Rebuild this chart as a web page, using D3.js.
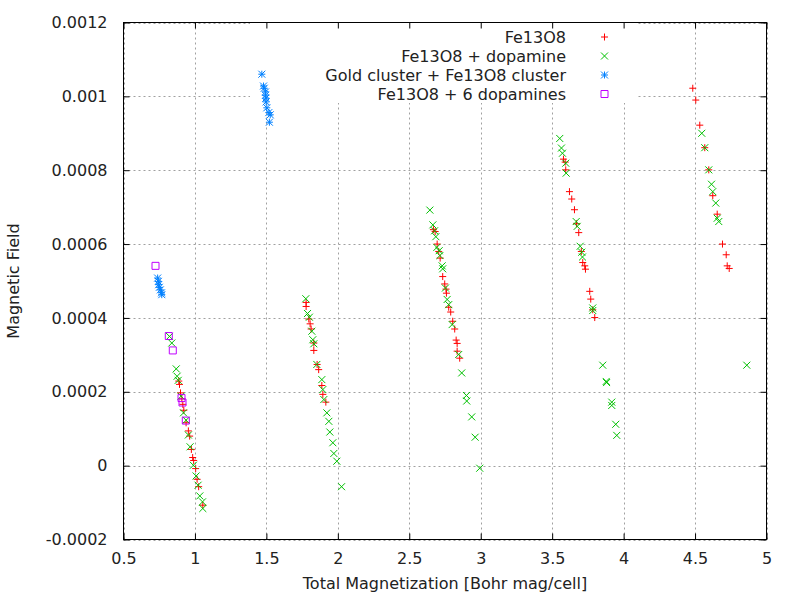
<!DOCTYPE html>
<html>
<head>
<meta charset="utf-8">
<script src="https://cdn.jsdelivr.net/npm/d3@7"></script>
<style>
  html, body { margin: 0; padding: 0; background: #fff; }
  svg { display: block; font-family: "DejaVu Sans", sans-serif; }
</style>
</head>
<body>
<svg id="chart" width="800" height="600"></svg>
<script>
// ---------------- data ----------------
const seriesNames = ["Fe13O8", "Fe13O8 + dopamine", "Gold cluster + Fe13O8 cluster", "Fe13O8 + 6 dopamines"];

const fe13o8 = [
  [0.887,0.000229],[0.892,0.000220],[0.899,0.000197],[0.908,0.000181],[0.915,0.000166],[0.922,0.000150],
  [0.938,0.000116],[0.954,0.000094],[0.963,0.000080],[0.975,0.000044],[0.984,0.000022],[0.991,0.000014],
  [1.005,-0.000008],[1.015,-0.000037],[1.026,-0.000057],[1.055,-0.000107],
  [1.778,0.000442],[1.778,0.000431],[1.797,0.000397],[1.806,0.000384],[1.813,0.000370],[1.832,0.000332],
  [1.832,0.000312],[1.855,0.000274],[1.866,0.000260],[1.888,0.000217],[1.895,0.000193],[1.916,0.000172],
  [2.669,0.000639],[2.681,0.000634],[2.695,0.000600],[2.706,0.000580],[2.716,0.000562],[2.734,0.000512],
  [2.748,0.000492],[2.757,0.000478],[2.760,0.000467],[2.776,0.000429],[2.790,0.000416],[2.804,0.000391],
  [2.818,0.000370],[2.828,0.000340],[2.835,0.000331],[2.835,0.000310],[2.853,0.000291],
  [3.579,0.000830],[3.591,0.000822],[3.595,0.000801],[3.621,0.000742],[3.637,0.000722],[3.656,0.000693],
  [3.671,0.000655],[3.686,0.000631],[3.704,0.000580],[3.714,0.000550],[3.728,0.000541],[3.733,0.000532],
  [3.763,0.000472],[3.770,0.000451],[3.784,0.000422],[3.798,0.000401],
  [4.484,0.001022],[4.505,0.000990],[4.533,0.000922],[4.568,0.000861],[4.596,0.000801],[4.624,0.000731],
  [4.655,0.000681],[4.692,0.000600],[4.718,0.000571],[4.725,0.000541],[4.739,0.000534]
];

const fe13o8Dopamine = [
  [0.822,0.000350],[0.838,0.000332],[0.869,0.000262],[0.875,0.000242],[0.883,0.000231],[0.903,0.000188],
  [0.920,0.000143],[0.938,0.000123],[0.954,0.000083],[0.966,0.000051],[0.989,0.000001],[1.008,-0.000028],
  [1.022,-0.000053],[1.034,-0.000082],[1.053,-0.000098],[1.055,-0.000116],
  [1.776,0.000452],[1.788,0.000412],[1.801,0.000402],[1.818,0.000364],[1.825,0.000341],[1.832,0.000330],
  [1.853,0.000274],[1.888,0.000233],[1.895,0.000206],[1.902,0.000179],[1.923,0.000143],[1.937,0.000120],
  [1.944,0.000091],[1.965,0.000062],[1.972,0.000033],[1.993,0.000012],[2.026,-0.000057],
  [2.644,0.000692],[2.665,0.000652],[2.677,0.000636],[2.686,0.000620],[2.693,0.000591],[2.709,0.000582],
  [2.714,0.000569],[2.730,0.000541],[2.734,0.000533],[2.753,0.000481],[2.765,0.000450],[2.776,0.000436],
  [2.800,0.000382],[2.846,0.000301],[2.867,0.000251],[2.900,0.000190],[2.902,0.000175],[2.937,0.000132],
  [2.961,0.000077],[2.993,-0.000007],
  [3.553,0.000886],[3.565,0.000860],[3.572,0.000846],[3.595,0.000819],[3.598,0.000792],[3.668,0.000661],
  [3.675,0.000648],[3.696,0.000594],[3.707,0.000578],[3.712,0.000565],[3.784,0.000427],[3.784,0.000420],
  [3.854,0.000272],[3.878,0.000228],[3.881,0.000225],[3.917,0.000172],[3.917,0.000163],[3.945,0.000112],
  [3.952,0.000082],
  [4.547,0.000900],[4.568,0.000861],[4.596,0.000801],[4.615,0.000762],[4.624,0.000742],[4.645,0.000711],
  [4.655,0.000670],[4.666,0.000661],[4.862,0.000272]
];

const goldFe13o8 = [
  [0.739,0.000508],[0.744,0.000499],[0.746,0.000490],[0.751,0.000483],[0.758,0.000476],[0.766,0.000468],
  [0.768,0.000463],
  [1.468,0.001060],[1.480,0.001028],[1.485,0.001022],[1.494,0.001012],[1.494,0.001003],[1.496,0.000995],
  [1.498,0.000985],[1.503,0.000969],[1.517,0.000956],[1.527,0.000950],[1.521,0.000930]
];

const fe13o86Dopamines = [
  [0.724,0.000541],[0.817,0.000351],[0.845,0.000312],[0.906,0.000183],[0.913,0.000171],[0.936,0.000122]
];

const xTicks = [0.5, 1, 1.5, 2, 2.5, 3, 3.5, 4, 4.5, 5];
const xTickLabels = ["0.5", "1", "1.5", "2", "2.5", "3", "3.5", "4", "4.5", "5"];
const yTicks = [-0.0002, 0, 0.0002, 0.0004, 0.0006, 0.0008, 0.001, 0.0012];
const yTickLabels = ["-0.0002", "0", "0.0002", "0.0004", "0.0006", "0.0008", "0.001", "0.0012"];
const xTitle = "Total Magnetization [Bohr mag/cell]";
const yTitle = "Magnetic Field";

// ---------------- layout ----------------
const L = 123.5, R = 766.5, T = 22.5, B = 539.5;
const colors = ["#ff0000", "#00c000", "#0080ff", "#c000ff"];
const shapes = ["plus", "cross", "star", "square"];
const allSeries = [fe13o8, fe13o8Dopamine, goldFe13o8, fe13o86Dopamines];
const textColor = "#222";

const svg = d3.select("#chart");
const x = d3.scaleLinear().domain([0.5, 5]).range([L, R]);
const y = d3.scaleLinear().domain([-0.0002, 0.0012]).range([B, T]);

// grid
const grid = svg.append("g").attr("stroke", "#a0a0a0").attr("stroke-width", 1)
  .attr("stroke-dasharray", "2,3").attr("fill", "none");
grid.selectAll("line.gx").data(xTicks).join("line").attr("class", "gx")
  .attr("x1", d => Math.round(x(d)) + 0.5).attr("x2", d => Math.round(x(d)) + 0.5)
  .attr("y1", B).attr("y2", T);
grid.selectAll("line.gy").data(yTicks).join("line").attr("class", "gy")
  .attr("y1", d => Math.round(y(d)) + 0.5).attr("y2", d => Math.round(y(d)) + 0.5)
  .attr("x1", L).attr("x2", R);

// key background (blanks the grid)
const keyBox = { x0: 250, x1: 638, y0: T, y1: 103 };
svg.append("rect").attr("x", keyBox.x0).attr("y", keyBox.y0)
  .attr("width", keyBox.x1 - keyBox.x0).attr("height", keyBox.y1 - keyBox.y0)
  .attr("fill", "#fff");

// axes (inward ticks, mirrored)
const fontSize = 16;
function styleAxis(g) {
  g.select(".domain").remove();
  g.selectAll(".tick line").attr("stroke", "#000");
  g.selectAll(".tick text").attr("fill", textColor).attr("font-size", fontSize)
    .attr("font-family", "DejaVu Sans, sans-serif");
}
svg.append("g").attr("transform", `translate(0,${B})`)
  .call(d3.axisBottom(x).tickValues(xTicks).tickFormat((d, i) => xTickLabels[i]).tickSize(-6).tickPadding(13))
  .call(styleAxis);
svg.append("g").attr("transform", `translate(0,${T})`)
  .call(d3.axisTop(x).tickValues(xTicks).tickFormat("").tickSize(-6))
  .call(styleAxis);
svg.append("g").attr("transform", `translate(${L},0)`)
  .call(d3.axisLeft(y).tickValues(yTicks).tickFormat((d, i) => yTickLabels[i]).tickSize(-6).tickPadding(16))
  .call(styleAxis);
svg.append("g").attr("transform", `translate(${R},0)`)
  .call(d3.axisRight(y).tickValues(yTicks).tickFormat("").tickSize(-6))
  .call(styleAxis);

// border
svg.append("rect").attr("x", L).attr("y", T).attr("width", R - L).attr("height", B - T)
  .attr("fill", "none").attr("stroke", "#000").attr("stroke-width", 1);

// marker paths
const h = 3.5;
function markerPath(shape) {
  const plus = `M${-h},0H${h}M0,${-h}V${h}`;
  const cross = `M${-h},${-h}L${h},${h}M${-h},${h}L${h},${-h}`;
  if (shape === "plus") return plus;
  if (shape === "cross") return cross;
  if (shape === "star") return plus + cross;
  return `M${-h},${-h}H${h}V${h}H${-h}Z`;
}

// points
allSeries.forEach((data, si) => {
  svg.append("g").selectAll("path").data(data).join("path")
    .attr("transform", d => `translate(${x(d[0])},${y(d[1])})`)
    .attr("d", markerPath(shapes[si]))
    .attr("fill", "none").attr("stroke", colors[si]).attr("stroke-width", 1);
});

// key
const key = svg.append("g");
seriesNames.forEach((name, i) => {
  const cy = 37 + i * 19;
  key.append("text").attr("x", 566).attr("y", cy).attr("dy", "0.36em")
    .attr("text-anchor", "end").attr("font-size", fontSize).attr("fill", textColor).text(name);
  key.append("path").attr("transform", `translate(604.5,${cy})`)
    .attr("d", markerPath(shapes[i])).attr("fill", "none")
    .attr("stroke", colors[i]).attr("stroke-width", 1);
});

// titles
svg.append("text").attr("x", (L + R) / 2).attr("y", 583).attr("dy", "0.36em")
  .attr("text-anchor", "middle").attr("font-size", fontSize).attr("fill", textColor).text(xTitle);
svg.append("text").attr("transform", `translate(13,${(T + B) / 2}) rotate(-90)`).attr("dy", "0.36em")
  .attr("text-anchor", "middle").attr("font-size", fontSize).attr("fill", textColor).text(yTitle);
</script>
</body>
</html>
